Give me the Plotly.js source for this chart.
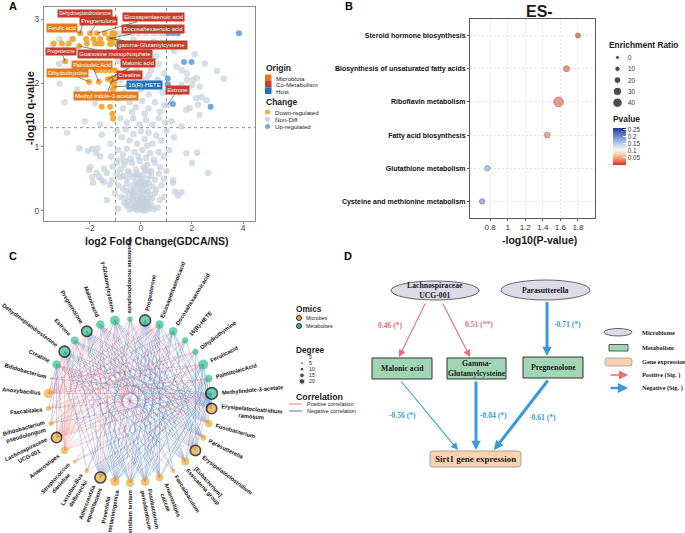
<!DOCTYPE html>
<html><head><meta charset="utf-8">
<script src="https://cdn.plot.ly/plotly-3.0.1.min.js"></script>
<style>html,body{margin:0;padding:0;background:#fff}#chart{width:685px;height:533px}</style>
</head><body><div id="chart"></div>
<script>
// ================= DATA =================
// ---- Panel A: volcano (log2 FC, -log10 q) ----
const nonDiffPts = [
[-3.45,2.6],[-3.19,2.69],[-2.71,2.69],[-2.95,2.55],[-0.85,2.78],[-0.6,2.78],[-0.35,2.78],[-0.1,2.78],[0.2,2.78],[0.5,2.78],[0.75,2.78],[0.95,2.78],
[-0.85,2.65],[-0.55,2.6],[-0.3,2.68],[-0.05,2.62],[0.25,2.55],[0.5,2.65],[0.8,2.6],[1.3,2.5],[2.1,2.45],[-0.7,2.45],[-0.2,2.45],[0.1,2.4],[0.6,2.42],
[-3.2,2.3],[-2.6,2.2],[-0.9,2.35],[-0.6,2.25],[-0.4,2.3],[-0.15,2.2],[0.15,2.32],[0.4,2.2],[0.7,2.3],[0.9,2.15],[1.39,2.26],[1.6,2.2],[1.8,2.15],[2.98,2.19],[2.5,2.3],[0.3,2.12],[-0.3,2.12],
[-3.19,1.99],[-2.5,1.9],[-0.8,2.05],[-0.5,1.95],[-0.25,2.0],[0.0,1.9],[0.2,2.05],[0.45,1.95],[0.65,2.05],[0.85,1.85],[1.8,2.05],[2.04,2.05],[2.19,2.08],[2.0,1.97],[2.3,1.94],[3.24,2.07],[1.59,1.97],[1.52,1.84],[-0.65,1.85],[0.3,1.82],[-2.0,1.85],
[-3.0,1.7],[-1.8,1.68],[-0.9,1.75],[-0.7,1.6],[-0.45,1.7],[-0.2,1.62],[0.05,1.72],[0.3,1.6],[0.55,1.7],[0.75,1.55],[0.9,1.65],[1.05,1.66],[1.78,1.58],[2.17,1.76],[2.38,1.78],[2.57,1.73],[2.23,1.66],[1.91,1.61],[2.3,1.5],[-0.35,1.55],[0.15,1.52],
[-2.2,1.4],[-0.8,1.45],[-0.55,1.38],[-0.3,1.45],[-0.05,1.35],[0.2,1.42],[0.45,1.35],[0.7,1.45],[0.95,1.38],[1.59,1.32],[-1.6,1.35],[1.2,1.4],
[-2.9,1.22],[-1.54,1.19],[-0.95,1.25],[-0.75,1.15],[-0.6,1.28],[-0.45,1.1],[-0.3,1.2],[-0.15,1.05],[0.0,1.25],[0.15,1.12],[0.3,1.22],[0.45,1.05],[0.6,1.18],[0.8,1.1],[1.0,1.25],[1.3,1.15],[-1.2,1.05],[0.25,1.02],
[-2.41,0.98],[-2.08,0.94],[-1.71,0.98],[-1.91,0.97],[-1.76,0.9],[-1.6,0.85],[-1.18,0.85],[-0.9,0.95],[-0.7,0.88],[-0.55,0.97],[-0.4,0.82],[-0.25,0.92],[-0.1,0.85],[0.05,0.95],[0.2,0.83],[0.35,0.9],[0.5,0.8],[0.7,0.92],[0.9,0.85],[1.78,0.9],[2.2,0.91],[1.1,0.95],[-0.8,0.8],
[-1.98,0.69],[-2.03,0.64],[-1.45,0.66],[-1.11,0.69],[-0.95,0.75],[-0.8,0.65],[-0.65,0.72],[-0.5,0.62],[-0.35,0.75],[-0.2,0.65],[-0.05,0.78],[0.1,0.68],[0.25,0.72],[0.4,0.62],[0.55,0.75],[0.75,0.68],[2.0,0.75],[1.0,0.62],[-0.6,0.78],[0.3,0.62],
[-1.34,0.59],[-1.73,0.59],[-1.91,0.53],[-1.64,0.53],[-0.82,0.53],[-1.54,0.48],[-1.13,0.48],[-0.7,0.55],[-0.55,0.5],[-0.45,0.58],[-0.3,0.52],[-0.15,0.58],[0.0,0.5],[0.1,0.57],[0.25,0.5],[0.4,0.55],[0.55,0.48],[0.7,0.58],[2.63,0.59],[1.26,0.48],[0.9,0.5],[-0.95,0.58],
[-1.88,0.44],[-1.45,0.45],[-1.21,0.41],[-0.9,0.4],[-0.7,0.35],[-0.55,0.42],[-0.4,0.33],[-0.3,0.4],[-0.2,0.35],[-0.1,0.42],[0.0,0.32],[0.1,0.4],[0.2,0.35],[0.3,0.43],[0.45,0.38],[0.6,0.33],[1.25,0.44],[0.8,0.4],[-0.6,0.31],[0.55,0.28],
[-1.34,0.17],[-1.02,0.28],[-0.8,0.22],[-0.6,0.2],[-0.45,0.27],[-0.35,0.18],[-0.25,0.25],[-0.15,0.17],[-0.05,0.28],[0.05,0.2],[0.15,0.26],[0.25,0.18],[0.35,0.25],[0.45,0.2],[0.74,0.17],[1.59,0.29],[1.33,0.3],[1.45,0.24],[0.9,0.22],[-0.5,0.15],[0.15,0.15],
[-0.9,0.03],[-0.55,0.08],[-0.45,0.02],[-0.38,0.1],[-0.3,0.04],[-0.25,0.12],[-0.2,0.06],[-0.15,0.01],[-0.1,0.1],[-0.05,0.05],[0.0,0.13],[0.0,0.02],[0.05,0.08],[0.1,0.03],[0.12,0.12],[0.18,0.06],[0.22,0.01],[0.28,0.1],[0.33,0.04],[0.4,0.08],[0.5,0.02],[0.66,0.05],[-0.65,0.12],[-0.08,0.14],[0.2,0.14],
[-0.28,0.3],[-0.18,0.45],[-0.12,0.22],[-0.02,0.38],[0.08,0.3],[0.18,0.42],[0.28,0.3],[-0.22,0.08],[0.02,0.2],[0.12,0.0],[-0.32,0.22],[0.35,0.15],[-0.05,0.55],[0.15,0.65],[-0.25,0.55],[0.05,0.45]
];
const downPts = [
[-2.38,2.78],[-1.99,2.78],[-1.72,2.78],[-1.42,2.78],[-1.13,2.78],[-1.03,2.78],
[-2.67,2.69],[-2.15,2.69],[-1.86,2.69],[-1.6,2.69],[-1.25,2.70],[-1.21,2.70],[-1.08,2.69],
[-3.42,2.62],[-3.1,2.62],[-2.83,2.62],[-2.12,2.62],[-1.8,2.62],[-1.67,2.62],[-1.54,2.62],[-1.21,2.61],[-1.12,2.62],
[-2.42,2.58],[-2.97,2.34],
[-1.85,2.24],[-1.72,2.2],[-1.6,2.2],[-1.41,2.2],[-1.21,2.2],[-1.02,2.2],
[-1.29,2.06],[-1.15,2.07],[-1.09,2.08],
[-2.03,2.02],[-1.65,2.02],[-1.13,2.02],[-1.03,2.02],
[-1.05,1.94],[-1.1,1.9],
[-1.54,1.63],[-1.21,1.63],[-1.12,1.52],[-1.09,1.44]
];
const upPts = [[1.07,2.78],[1.26,2.78],[1.45,2.78],[3.84,2.78],[1.69,2.33],[1.98,2.33],[1.05,2.07],[1.05,1.98],[1.25,1.67],[2.73,1.63]];
const labName = ['Dehydroepiandrosterone','Pregnenolone','Eicosapentaenoic acid','Docosahexaenoic acid','gamma-Glutamylcysteine','Ferulic acid','Progesterone','Guanosine monophosphate','Palmitoleic Acid','Dihydrothymine','Malonic acid','Creatine','16(R)-HETE','Methyl indole-3-acetate','Estrone'];
const labX = [-2.38,-1.99,-1.72,-1.21,-1.25,-2.38,-2.97,-2.42,-1.65,-2.03,-1.29,-1.13,-1.05,-1.09,1.05];
const labY = [2.78,2.78,2.78,2.70,2.70,2.78,2.34,2.58,2.02,2.02,2.06,2.02,1.94,2.08,1.66];
const labOrigin = ['Co-Metabolism','Co-Metabolism','Co-Metabolism','Co-Metabolism','Co-Metabolism','Microbiota','Co-Metabolism','Co-Metabolism','Microbiota','Microbiota','Co-Metabolism','Co-Metabolism','Host','Microbiota','Co-Metabolism'];
const originNames = ['Microbiota','Co-Metabolism','Host'];
const changeNames = ['Down-regulated','Non-Diff','Up-regulated'];

// ---- Panel B: pathway enrichment ----
const pathways = ['Steroid hormone biosynthesis','Biosynthesis of unsaturated fatty acids','Riboflavin metabolism','Fatty acid biosynthesis','Glutathione metabolism','Cysteine and methionine metabolism'];
const negLogP = [1.80,1.67,1.58,1.45,0.77,0.71];
const pValue = [0.016,0.021,0.026,0.035,0.170,0.195];
const enrichRatio = [8,14,42,12,11,10];
const erLegendVals = [0,10,20,30,40];
const pTickVals = [0.05,0.1,0.15,0.2,0.25];

// ---- Panel C: correlation network (circle order) ----
const nodeNames = ['Guanosine monophosphate','Progesterone','Eicosapentaenoicacid','Docosahexaenoicacid','16(R)-HETE','Dihydrothymine','Ferulicacid','PalmitoleicAcid','Methylindole-3-acetate',
'Erysipelatoclostridium\nramosum','Fusobacterium','Parasutterella','Erysipelatoclostridium','[Eubacterium]\nfissicatena group','Faecalibaculum','Anaerostipes\ncaccae','Fusobacterium\nperiodonticum','Clostridium tertium','Prevotella\nmelaninogenica','Adlercreutzia\nequolifaciens','Lactobacillus\ndelbrueckii','Streptococcus\ndanieliae','Anaerostipes','Lachnospiraceae\nUCG-001','Bifidobacterium\npseudolongum','Faecalitalea','Anoxybacillus','Bifidobacterium',
'Creatine','Dehydroepiandrosterone','Estrone','Pregnenolone','Malonicacid','γ-Glutamylcysteine'];
const nodeOmics = ['Metabolites','Metabolites','Metabolites','Metabolites','Metabolites','Metabolites','Metabolites','Metabolites','Metabolites',
'Microbes','Microbes','Microbes','Microbes','Microbes','Microbes','Microbes','Microbes','Microbes','Microbes','Microbes','Microbes','Microbes','Microbes','Microbes','Microbes','Microbes','Microbes','Microbes',
'Metabolites','Metabolites','Metabolites','Metabolites','Metabolites','Metabolites'];
const posEdges = [
[0,18],[0,12],[0,23],
[1,23],[1,26],[1,22],[1,12],[1,10],
[2,23],[2,26],[2,25],[2,20],
[3,23],[3,26],[3,21],[3,24],
[4,23],[4,22],[4,26],
[5,23],[5,26],[5,25],
[6,23],[6,26],[6,22],[6,24],[6,27],
[7,23],[7,26],[7,25],[7,21],[7,12],
[8,23],[8,26],[8,22],[8,25],[8,20],
[28,9],[28,10],[28,12],[28,14],
[29,23],[29,26],[29,22],[29,25],
[30,13],[30,16],[30,22],[30,24],
[31,23],[31,26],[31,14],[31,22],
[32,23],[32,15],[32,19],[32,12],
[33,23],[33,17],[33,19],[33,22],[33,26]
];
const negEdges = [
[0,19],[0,13],[0,15],
[1,19],[1,17],[1,16],[1,18],[1,15],[1,13],[1,9],[1,11],[1,14],[1,20],
[2,19],[2,17],[2,18],[2,16],[2,15],[2,9],[2,12],
[3,19],[3,18],[3,17],[3,16],[3,9],[3,10],[3,12],
[4,19],[4,18],[4,16],[4,9],
[5,19],[5,17],[5,9],[5,12],
[6,19],[6,18],[6,17],[6,16],[6,9],[6,10],[6,12],[6,13],
[7,19],[7,18],[7,15],[7,9],
[8,19],[8,18],[8,17],[8,16],[8,15],[8,24],[8,27],[8,21],[8,13],[8,9],[8,12],
[28,19],[28,23],[28,26],[28,22],[28,24],[28,11],[28,13],
[29,9],[29,10],[29,11],[29,12],[29,13],[29,15],[29,16],[29,17],[29,19],[29,18],[29,20],
[30,9],[30,10],[30,11],[30,12],[30,19],[30,17],
[31,9],[31,10],[31,11],[31,12],[31,13],[31,15],[31,16],[31,17],[31,19],[31,18],
[32,9],[32,10],[32,11],[32,13],[32,16],[32,18],[32,14],
[33,9],[33,10],[33,11],[33,12],[33,13],[33,15],[33,16],[33,18]
];
const degreeLegendVals = [0,5,10,15,20];

// ---- Panel D: path model ----
const pathFrom = ['Lachnospiraceae UCG-001','Lachnospiraceae UCG-001','Parasutterella','Malonic acid','Gamma-Glutamylcysteine','Pregnenolone'];
const pathTo = ['Malonic acid','Gamma-Glutamylcysteine','Pregnenolone','Sirt1 gene expression','Sirt1 gene expression','Sirt1 gene expression'];
const pathCoef = [0.46,0.51,-0.71,-0.56,-0.84,-0.61];
const pathSig = ['*','**','*','*','*','*'];

// ================= LAYOUT / STYLE =================
const W = 685, H = 533;
const px = v => v / W, py = v => 1 - v / H;
const SANS = 'Liberation Sans, Arial, sans-serif';
const SERIF = 'Liberation Serif, Times New Roman, serif';
const COL = {down:'#f5a22d', non:'#c6d0db', up:'#5f9fe0',
  Microbiota:'#e17d1f', 'Co-Metabolism':'#c43d2d', Host:'#1f72bd',
  microbe:'#f2a736', metab:'#33bd8e', pos:'rgba(242,128,138,0.55)', neg:'rgba(80,132,196,0.45)',
  dRed:'#f06a74', dBlue:'#3a9ad8', ell:'#dcdbe6', box:'#a2d5b6', gene:'#fad3ae'};

const traces = [], annotations = [], shapes = [];
const T = (x, y, text, size, o = {}) => Object.assign({xref:'x3', yref:'y3', x, y, text, showarrow:false,
  xanchor:'left', yanchor:'middle', font:{family:SANS, size, color:'#1a1a1a'}}, o);

// ---------- Panel A ----------
traces.push({type:'scatter', mode:'markers', xaxis:'x', yaxis:'y', hoverinfo:'skip',
  x: nonDiffPts.map(p=>p[0]), y: nonDiffPts.map(p=>p[1]), marker:{size:6.5, color:COL.non, opacity:0.7}});
traces.push({type:'scatter', mode:'markers', xaxis:'x', yaxis:'y', hoverinfo:'skip',
  x: downPts.map(p=>p[0]), y: downPts.map(p=>p[1]), marker:{size:6, color:COL.down, opacity:0.9}});
traces.push({type:'scatter', mode:'markers', xaxis:'x', yaxis:'y', hoverinfo:'skip',
  x: upPts.map(p=>p[0]), y: upPts.map(p=>p[1]), marker:{size:6, color:COL.up, opacity:0.9}});
const FC_CUT = 1, Q_CUT = -Math.log10(0.05);
[-FC_CUT, FC_CUT].forEach(v => shapes.push({type:'line', layer:'below', xref:'x', yref:'y domain', x0:v, x1:v, y0:0, y1:1, line:{color:'#8a8a8a', width:1, dash:'dot'}}));
shapes.push({type:'line', layer:'below', xref:'x domain', yref:'y', x0:0, x1:1, y0:Q_CUT, y1:Q_CUT, line:{color:'#8a8a8a', width:1, dash:'dot'}});
const labDx = [5,8,56,43,43,-18,-4,36,-7,-22,30,17,30,-7,10];
const labDy = [-20,-12,-16,-9,7,-5,-10,8,-17,-9,-16,-7,-2,18,-15];
const labFont = [4.7,5.6,5.9,5.9,5.9,5.4,4.6,5.8,5.4,5.6,5.7,5.9,5.9,5.9,5.9];
labName.forEach((n,i) => annotations.push({xref:'x', yref:'y', x:labX[i], y:labY[i], ax:labDx[i], ay:labDy[i], text:n,
  showarrow:true, arrowhead:0, arrowwidth:0.6, arrowcolor:'#333', standoff:0,
  font:{family:SANS, size:labFont[i], color:'#fff'}, bgcolor:COL[labOrigin[i]], borderpad:1.2}));
annotations.push(T(157, 240.5, '<b>log2 Fold Change(GDCA/NS)</b>', 10.5, {xanchor:'center'}));
annotations.push(T(30, 108, '<b>-log10 q-value</b>', 11, {xanchor:'center', textangle:-90}));
// legend A
annotations.push(T(264, 67.5, '<b>Origin</b>', 8.5));
originNames.forEach((n,i) => {
  shapes.push({type:'rect', xref:'x3', yref:'y3', x0:265, x1:271.5, y0:74.5+i*6.5, y1:81+i*6.5, fillcolor:COL[n], line:{width:0}});
  annotations.push(T(274, 78+i*6.5, n, 6.2));
});
annotations.push(T(264, 102, '<b>Change</b>', 8.5));
const chCol = [COL.down, COL.non, COL.up];
traces.push({type:'scatter', mode:'markers', xaxis:'x3', yaxis:'y3', hoverinfo:'skip',
  x: changeNames.map(()=>267.5), y: changeNames.map((_,i)=>112+i*7.3), marker:{size:5, color:chCol, opacity:0.9}});
changeNames.forEach((n,i) => annotations.push(T(273, 112+i*7.3, n, 6.2)));

// ---------- Panel B ----------
const erSize = v => 4 + v*0.135;
const pScale = [[0,'#e0261c'],[0.1,'#ec6f55'],[0.2,'#f5a57c'],[0.33,'#fbe0cc'],[0.42,'#f4f4f4'],[0.55,'#bfd3ec'],[0.7,'#8aa9dc'],[0.85,'#4f6fbf'],[1,'#273a94']];
traces.push({type:'scatter', mode:'markers', xaxis:'x2', yaxis:'y2', hoverinfo:'skip', x:negLogP, y:pathways,
  marker:{size:enrichRatio.map(erSize), color:pValue, colorscale:pScale, cmin:0, cmax:0.26,
    line:{color:'#3a3a3a', width:0.6},
    colorbar:{x:px(613), xanchor:'left', y:py(165), yanchor:'bottom', len:37/H, lenmode:'fraction',
      thickness:13, thicknessmode:'pixels', outlinewidth:0, xpad:0, ypad:0,
      tickvals:pTickVals, ticktext:pTickVals.map(String), ticks:'inside', ticklen:3, tickcolor:'#fff',
      tickfont:{family:SANS, size:6.3, color:'#333'}}}});
annotations.push(T(539, 11, '<b>ES-</b>', 16, {xanchor:'center'}));
annotations.push(T(539, 240, '<b>-log10(P-value)</b>', 10.5, {xanchor:'center'}));
annotations.push(T(607, 45, '<b>Enrichment Ratio</b>', 8.4));
traces.push({type:'scatter', mode:'markers', xaxis:'x3', yaxis:'y3', hoverinfo:'skip',
  x: erLegendVals.map(()=>617.5), y: erLegendVals.map((_,i)=>57.5+i*11.3), marker:{size:erLegendVals.map(erSize), color:'#000'}});
erLegendVals.forEach((v,i) => annotations.push(T(626, 57.5+i*11.3, String(v), 6.3, {font:{family:SANS,size:6.3,color:'#333'}})));
annotations.push(T(611, 119, '<b>Pvalue</b>', 8.4));

// ---------- Panel C ----------
const NET = {cx:130, cy:401, R:82};
const nN = nodeNames.length;
const ang = nodeNames.map((_,i) => (90 - i*360/nN));
const nodeX = ang.map(a => NET.cx + NET.R*Math.cos(a*Math.PI/180));
const nodeY = ang.map(a => NET.cy - NET.R*Math.sin(a*Math.PI/180));
const degree = new Array(nN).fill(0);
posEdges.concat(negEdges).forEach(([a,b]) => {degree[a]++; degree[b]++;});
const degSize = d => 2 + 0.6*d;
const isHub = degree.map(d => d >= 14);
posEdges.forEach(([a,b]) => traces.push({type:'scatter', mode:'lines', xaxis:'x3', yaxis:'y3', hoverinfo:'skip',
  x:[nodeX[a],nodeX[b]], y:[nodeY[a],nodeY[b]], line:{color:COL.pos, width:0.8}}));
negEdges.forEach(([a,b]) => traces.push({type:'scatter', mode:'lines', xaxis:'x3', yaxis:'y3', hoverinfo:'skip',
  x:[nodeX[a],nodeX[b]], y:[nodeY[a],nodeY[b]], line:{color:COL.neg, width:0.8}}));
traces.push({type:'scatter', mode:'markers', xaxis:'x3', yaxis:'y3', hoverinfo:'skip', x:nodeX, y:nodeY,
  marker:{size:degree.map(degSize), color:nodeOmics.map(o => o==='Microbes' ? COL.microbe : COL.metab),
    line:{color:'#000', width:isHub.map(h => h ? 1.6 : 0)}}});
const ctx = document.createElement('canvas').getContext('2d');
const LFS = 5.7;
ctx.font = 'bold ' + LFS + 'px "Liberation Sans"';
nodeNames.forEach((n,i) => {
  const lines = n.split('\n');
  const w = Math.max(...lines.map(l => ctx.measureText(l).width));
  const r0 = NET.R + degSize(degree[i])/2 + (isHub[i]?0.8:0) + 2.5 + w/2 + 1;
  const a = ang[i]*Math.PI/180;
  let ta = Math.cos(a) > 0.01 ? -ang[i] : 180 - ang[i];
  if (ta > 180) ta -= 360; if (ta < -180) ta += 360;
  annotations.push({xref:'x3', yref:'y3', x:NET.cx + r0*Math.cos(a), y:NET.cy - r0*Math.sin(a), text:'<b>'+lines.join('<br>')+'</b>',
    showarrow:false, xanchor:'center', yanchor:'middle', textangle:ta, font:{family:SANS, size:LFS, color:'#111'}});
});
// legends C
annotations.push(T(294, 309, '<b>Omics</b>', 8.3));
traces.push({type:'scatter', mode:'markers', xaxis:'x3', yaxis:'y3', hoverinfo:'skip', x:[299,299], y:[318,326],
  marker:{size:5, color:[COL.microbe, COL.metab], line:{color:'#000', width:0.8}}});
annotations.push(T(304, 318, 'Microbes', 5.2));
annotations.push(T(304, 326, 'Metabolites', 5.2));
annotations.push(T(294, 350, '<b>Degree</b>', 8.3));
traces.push({type:'scatter', mode:'markers', xaxis:'x3', yaxis:'y3', hoverinfo:'skip',
  x:degreeLegendVals.map(()=>302), y:degreeLegendVals.map((_,i)=>357+i*6.1), marker:{size:degreeLegendVals.map(d=>1.7+d*0.2), color:'#000'}});
degreeLegendVals.forEach((d,i) => annotations.push(T(307, 357+i*6.1, String(d), 5.2)));
annotations.push(T(294, 397, '<b>Correlation</b>', 8.8));
[['Positive correlation', 'rgba(242,128,138,0.9)'], ['Negative correlation', 'rgba(80,132,196,0.9)']].forEach(([t,c],i) => {
  shapes.push({type:'line', xref:'x3', yref:'y3', x0:289, x1:302, y0:404+i*7, y1:404+i*7, line:{color:c, width:1.2}});
  annotations.push(T(305, 404+i*7, t, 5.5));
});

// ---------- Panel D ----------
const dNodes = {
  'Lachnospiraceae UCG-001': {cx:435, cy:290.5, w:88, h:19, kind:'micro', label:'Lachnospiraceae<br>UCG-001'},
  'Parasutterella': {cx:545.5, cy:290, w:89, h:20, kind:'micro', label:'Parasutterella'},
  'Malonic acid': {cx:402, cy:368.5, w:60, h:21, kind:'met', label:'Malonic acid'},
  'Gamma-Glutamylcysteine': {cx:476.5, cy:368.5, w:59, h:21, kind:'met', label:'Gamma-<br>Glutamylcysteine'},
  'Pregnenolone': {cx:553, cy:367.5, w:60, h:21, kind:'met', label:'Pregnenolone'},
  'Sirt1 gene expression': {cx:475.5, cy:459, w:91, h:16, kind:'gene', label:'Sirt1 gene expression'}
};
const rr = (x0,y0,x1,y1,r) => `M${x0+r},${y0} L${x1-r},${y0} Q${x1},${y0} ${x1},${y0+r} L${x1},${y1-r} Q${x1},${y1} ${x1-r},${y1} L${x0+r},${y1} Q${x0},${y1} ${x0},${y1-r} L${x0},${y0+r} Q${x0},${y0} ${x0+r},${y0} Z`;
const drawNode = (b) => {
  const x0=b.cx-b.w/2, x1=b.cx+b.w/2, y0=b.cy-b.h/2, y1=b.cy+b.h/2;
  if (b.kind==='micro') shapes.push({type:'circle', xref:'x3', yref:'y3', x0, x1, y0, y1, fillcolor:COL.ell, line:{color:'#444', width:0.8}});
  else if (b.kind==='met') shapes.push({type:'rect', xref:'x3', yref:'y3', x0, x1, y0, y1, fillcolor:COL.box, line:{color:'#333', width:1}});
  else shapes.push({type:'path', xref:'x3', yref:'y3', path:rr(x0,y0,x1,y1,3), fillcolor:COL.gene, line:{color:'#999', width:0.9}});
};
Object.values(dNodes).forEach(b => {
  drawNode(b);
  const fs = b.kind==='gene' ? 9 : 7.7;
  annotations.push(T(b.cx, b.cy, '<b>'+b.label+'</b>', fs, {xanchor:'center', font:{family:SERIF, size:fs, color:'#1a1a1a'}}));
});
const arrowTail = [[426,302],[442,302],[547,300.5],[400,380],[476,380],[549,379]];
const arrowHead = [[399,357],[470,357],[547,356],[458,450],[476,450],[494,450]];
const coefPos = [[390,325],[479,324],[567,324],[402,415],[493,415],[542,417]];
pathCoef.forEach((c,i) => {
  const col = c > 0 ? COL.dRed : COL.dBlue;
  const thick = Math.abs(c) >= 0.6;
  annotations.push({xref:'x3', yref:'y3', axref:'x3', ayref:'y3', x:arrowHead[i][0], y:arrowHead[i][1], ax:arrowTail[i][0], ay:arrowTail[i][1],
    text:'', showarrow:true, arrowhead:2, arrowsize: thick?0.62:1.3, arrowwidth: thick?3:1.1, arrowcolor:col, standoff:0});
  annotations.push(T(coefPos[i][0], coefPos[i][1], '<b>'+c.toFixed(2)+' ('+pathSig[i]+')</b>', 7.6,
    {xanchor:'center', font:{family:SERIF, size:7.6, color:col}}));
});
// D legend
shapes.push({type:'circle', xref:'x3', yref:'y3', x0:604, x1:632, y0:328.5, y1:336, fillcolor:COL.ell, line:{color:'#444', width:0.8}});
shapes.push({type:'rect', xref:'x3', yref:'y3', x0:609, x1:628, y0:344.5, y1:351, fillcolor:COL.box, line:{color:'#333', width:0.8}});
shapes.push({type:'path', xref:'x3', yref:'y3', path:rr(605,358,632,366,2.5), fillcolor:COL.gene, line:{color:'#999', width:0.8}});
annotations.push({xref:'x3', yref:'y3', axref:'x3', ayref:'y3', x:628, y:375, ax:609, ay:375, text:'', showarrow:true, arrowhead:2, arrowsize:1.2, arrowwidth:1.5, arrowcolor:COL.dRed, standoff:0});
annotations.push({xref:'x3', yref:'y3', axref:'x3', ayref:'y3', x:628, y:388, ax:609, ay:388, text:'', showarrow:true, arrowhead:2, arrowsize:0.8, arrowwidth:2.5, arrowcolor:COL.dBlue, standoff:0});
[['Microbiome',332],['Metabolism',347.5],['Gene expression',361.5],['Positive (Sig. )',374.5],['Negative (Sig. )',388]].forEach(([t,y]) =>
  annotations.push(T(640, y, '<b>'+t+'</b>', 6.3, {font:{family:SERIF, size:6.3, color:'#1a1a1a'}})));

// ---------- panel letters ----------
[['A',13,6],['B',349,6],['C',13,256],['D',348,256]].forEach(([t,x,y]) =>
  annotations.push(T(x, y, '<b>'+t+'</b>', 11, {xanchor:'center', font:{family:SANS, size:11, color:'#000'}})));

const axA = {showline:true, mirror:true, linecolor:'#8c8c8c', linewidth:1, ticks:'outside', ticklen:2, tickcolor:'#8c8c8c',
  tickfont:{family:SANS, size:8.5, color:'#4d4d4d'}, showgrid:false, zeroline:false, fixedrange:true};
const axB = {showline:true, mirror:true, linecolor:'#5a5a5a', linewidth:1, ticks:'outside', ticklen:2, tickcolor:'#5a5a5a',
  showgrid:true, gridcolor:'#d6d6d6', gridwidth:0.6, griddash:'2px,2px', zeroline:false, fixedrange:true};
const layout = {
  width:W, height:H, margin:{l:0,r:0,t:0,b:0}, paper_bgcolor:'#fff', plot_bgcolor:'rgba(0,0,0,0)',
  showlegend:false, font:{family:SANS, size:8, color:'#222'},
  xaxis: Object.assign({}, axA, {domain:[px(44), px(255)], range:[-3.8,4.47], tickvals:[-2,0,2,4], ticklabelstandoff:-3, anchor:'y'}),
  yaxis: Object.assign({}, axA, {domain:[py(221), py(7)], range:[-0.16,3.19], tickvals:[0,1,2,3], anchor:'x'}),
  xaxis2: Object.assign({}, axB, {domain:[px(470), px(595)], range:[0.572,1.994], tickvals:[0.8,1,1.2,1.4,1.6,1.8],
    ticklabelstandoff:-1, tickfont:{family:SANS, size:8, color:'#333'}, anchor:'y2'}),
  yaxis2: Object.assign({}, axB, {domain:[py(218), py(19)], type:'category', categoryorder:'array', categoryarray:pathways,
    range:[5.5,-0.5], tickfont:{family:SANS, size:7, color:'#111', weight:'bold'}, anchor:'x2'}),
  xaxis3: {domain:[0,1], range:[0,W], visible:false, fixedrange:true, anchor:'y3'},
  yaxis3: {domain:[0,1], range:[H,0], visible:false, fixedrange:true, anchor:'x3'},
  annotations, shapes
};
Plotly.newPlot('chart', traces, layout, {staticPlot:true, displayModeBar:false});
</script>
</body></html>
